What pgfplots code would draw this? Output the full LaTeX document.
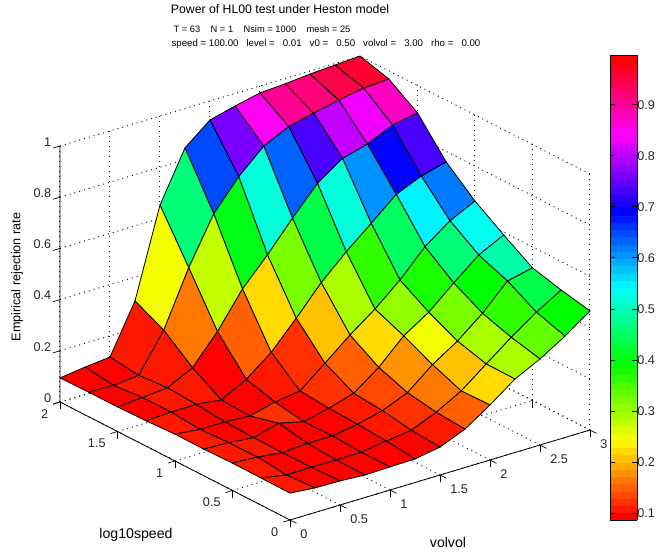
\documentclass[border=0pt]{standalone}
\usepackage{fontspec}
\setmainfont{Liberation Sans}
\usepackage{pgfplots}
\pgfplotsset{compat=1.18}
\pgfplotsset{colormap={hsvbase}{rgb255=(255,0,0) rgb255=(255,255,0) rgb255=(0,255,0) rgb255=(0,255,255) rgb255=(0,0,255) rgb255=(255,0,255) rgb255=(255,0,0)}}
\pgfplotsset{colormap={hsv64}{samples of colormap=(64 of hsvbase)}}
\begin{document}
\begin{tikzpicture}[x=0.75pt,y=-0.75pt]
\path[use as bounding box] (0,0) rectangle (662,552);
\begin{axis}[
  anchor=origin, at={(217.5pt,-390pt)},
  x={(75pt,22.5pt)}, y={(-86.25pt,44.25pt)}, z={(0pt,192pt)},
  xmin=0,xmax=3,ymin=0,ymax=2,zmin=0,zmax=1,
  clip=false,
  xtick={0,0.5,1,1.5,2,2.5,3}, xticklabels={0,0.5,1,1.5,2,2.5,3},
  ytick={0,0.5,1,1.5,2}, yticklabels={0,0.5,1,1.5,2},
  ztick={0,0.2,0.4,0.6,0.8,1}, zticklabels={0,0.2,0.4,0.6,0.8,1},
  xtick pos=left, ytick pos=left, ztick pos=left,
  tick label style={font=\fontsize{9.5pt}{11pt}\selectfont, text=black!85, inner sep=0pt},
  xticklabel style={anchor=west, xshift=2.6pt, yshift=-8pt},
  yticklabel style={anchor=east, xshift=-3.45pt, yshift=-7.4pt},
  zticklabel style={anchor=east, xshift=-1.5pt, yshift=0.6pt},
  tick align=outside, major tick length=5.5pt,
  tick style={black, line width=0.5pt},
  ztick style={draw=none},
  axis line style={draw=none},
  grid=major,
  grid style={black!90, line width=0.75pt, dash pattern=on 0.75pt off 3pt},
  colormap name=hsv64,
  colormap access=piecewise constant,
  point meta min=0.0862, point meta max=0.9975,
  colorbar sampled,
  colorbar style={
    samples=65,
    scale only axis,
    width=20.25pt, height=348.75pt,
    at={(1.0377,0)}, anchor=south west,
    ytick={0.1,0.2,0.3,0.4,0.5,0.6,0.7,0.8,0.9},
    yticklabels={0.1,0.2,0.3,0.4,0.5,0.6,0.7,0.8,0.9},
    yticklabel pos=right, ytick pos=both, tick align=inside,
    major tick length=3.5pt,
    axis line style={draw=black, line width=0.6pt},
    tick style={black, line width=0.5pt},
    yticklabel style={font=\fontsize{9.5pt}{11pt}\selectfont, text=black!85},
  },
]
\addplot3[surf, shader=flat corner, draw=black, line width=0.6pt, z buffer=sort,
  mesh/ordering=x varies, mesh/rows=9, mesh/cols=13] coordinates {
(0,0,.105) (.25,0,.096) (.5,0,.094) (.75,0,.088) (1,0,.090) (1.25,0,.092) (1.5,0,.109) (1.75,0,.150) (2,0,.215) (2.25,0,.287) (2.5,0,.336) (2.75,0,.396) (3,0,.465)

(0,.25,.106) (.25,.25,.089) (.5,.25,.090) (.75,.25,.089) (1,.25,.090) (1.25,.25,.104) (1.5,.25,.117) (1.75,.25,.158) (2,.25,.212) (2.25,.25,.288) (2.5,.25,.363) (2.75,.25,.432) (3,.25,.489)

(0,.5,.107) (.25,.5,.101) (.5,.5,.089) (.75,.5,.096) (1,.5,.096) (1.25,.5,.112) (1.5,.5,.136) (1.75,.5,.177) (2,.5,.257) (2.25,.5,.320) (2.5,.5,.399) (2.75,.5,.496) (3,.5,.518)

(0,.75,.104) (.25,.75,.100) (.5,.75,.090) (.75,.75,.117) (1,.75,.094) (1.25,.75,.117) (1.5,.75,.146) (1.75,.75,.218) (2,.75,.312) (2.25,.75,.375) (2.5,.75,.460) (2.75,.75,.540) (3,.75,.589)

(0,1,.105) (.25,1,.094) (.5,1,.094) (.75,1,.088) (1,1,.113) (1.25,1,.127) (1.5,1,.206) (1.75,1,.287) (2,1,.359) (2.25,1,.443) (2.5,1,.544) (2.75,1,.616) (3,1,.664)

(0,1.25,.099) (.25,1.25,.104) (.5,1.25,.105) (.75,1.25,.093) (1,1.25,.144) (1.25,1.25,.220) (1.5,1.25,.324) (1.75,1.25,.434) (2,1.25,.525) (2.25,1.25,.607) (2.5,1.25,.691) (2.75,1.25,.733) (3,1.25,.759)

(0,1.5,.096) (.25,1.5,.103) (.5,1.5,.112) (.75,1.5,.161) (1,1.5,.273) (1.25,1.5,.410) (1.5,1.5,.514) (1.75,1.5,.628) (2,1.5,.735) (2.25,1.5,.803) (2.5,1.5,.830) (2.75,1.5,.875) (3,1.5,.893)

(0,1.75,.096) (.25,1.75,.093) (.5,1.75,.103) (.75,1.75,.250) (1,1.75,.465) (1.25,1.75,.646) (1.5,1.75,.762) (1.75,1.75,.852) (2,1.75,.899) (2.25,1.75,.922) (2.5,1.75,.944) (2.75,1.75,.961) (3,1.75,.968)

(0,2,.094) (.25,2,.107) (.5,2,.117) (.75,2,.307) (1,2,.652) (1.25,2,.846) (1.5,2,.926) (1.75,2,.951) (2,2,.973) (2.25,2,.979) (2.5,2,.988) (2.75,2,.994) (3,2,1.0)
};
\draw[black, line width=0.6pt] (axis cs:3,0,0) -- (axis cs:0,0,0) -- (axis cs:0,2,0) -- (axis cs:0,2,1);
\draw[black, line width=0.5pt]
  (axis cs:0,2,0) -- (axis cs:-0.07,2,0)
  (axis cs:0,2,0.2) -- (axis cs:-0.07,2,0.2)
  (axis cs:0,2,0.4) -- (axis cs:-0.07,2,0.4)
  (axis cs:0,2,0.6) -- (axis cs:-0.07,2,0.6)
  (axis cs:0,2,0.8) -- (axis cs:-0.07,2,0.8)
  (axis cs:0,2,1) -- (axis cs:-0.07,2,1);
\end{axis}
\node[font=\fontsize{9.2pt}{11pt}\selectfont] at (280,9) {Power of HL00 test under Heston model};
\node[font=\fontsize{7pt}{8pt}\selectfont] at (262,29) {T = 63\ \ \ \ N = 1\ \ \ \ Nsim = 1000\ \ \ \ mesh = 25};
\node[font=\fontsize{7.25pt}{8pt}\selectfont] at (326,44) {speed = 100.00\ \ \ level =\ \ \ 0.01\ \ \ v0 =\ \ \ 0.50\ \ \ volvol =\ \ \ 3.00\ \ \ rho =\ \ \ 0.00};
\node[font=\fontsize{10.6pt}{11pt}\selectfont] at (448,542) {volvol};
\node[font=\fontsize{10.6pt}{11pt}\selectfont] at (136,535) {log10speed};
\node[font=\fontsize{9.5pt}{11pt}\selectfont, rotate=90] at (17,277) {Empirical rejection rate};
\end{tikzpicture}
\end{document}
